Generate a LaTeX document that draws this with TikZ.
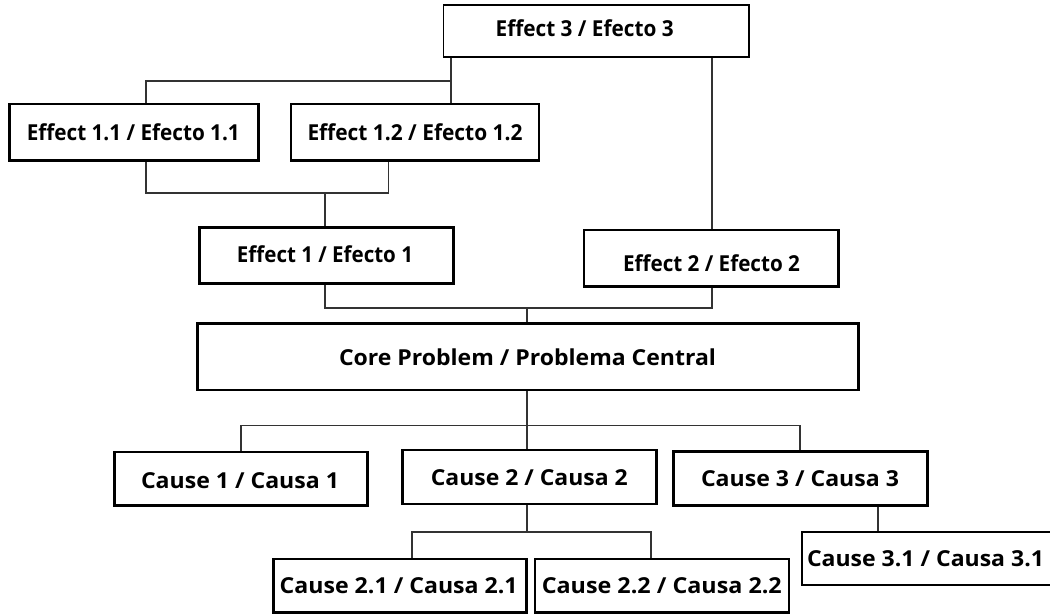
\documentclass[tikz,border=0pt]{standalone}
\usepackage{fontspec}
\usepackage{graphicx}
\setmainfont{Open Sans}
\usetikzlibrary{fit}
% set a label to a given width, keeping its natural height
\newcommand\fitlabel[2]{\resizebox{#1pt}{\height}{#2}}
\tikzset{
  x=1pt, y=-1pt,
  box/.style={draw=black, line width=2.8pt, inner sep=0pt, fill=white},
  thinbox/.style={box, line width=1.8pt},
  lbl/.style={anchor=base, inner sep=0pt, font=\fontsize{22}{26}\selectfont\bfseries},
  link/.style={draw=black!80, line width=1.7pt}
}
\begin{document}
\begin{tikzpicture}
\clip (0,0) rectangle (1050,614);
\fill[white] (0,0) rectangle (1050,614);

% junction points of the connector lines
\coordinate (ja) at (451,81);     % Effect 3 -> Effect 1.1 / 1.2
\coordinate (jb) at (146,81);
\coordinate (jd) at (146,193);    % Effect 1.1 / 1.2 -> Effect 1
\coordinate (je) at (388.4,193);
\coordinate (jf) at (325,193);
\coordinate (jg) at (325,307.7);  % Effect 1 / 2 -> Core
\coordinate (jh) at (711.7,307.7);
\coordinate (ji) at (526.7,307.7);
\coordinate (jj) at (241,425.5);  % Core -> Causes
\coordinate (jk) at (800,425.5);
\coordinate (jm) at (412.3,532.3);% Cause 2 -> 2.1 / 2.2
\coordinate (jn) at (651,532.3);
\coordinate (jo) at (526.7,532.3);

% boxes
\node[thinbox, fit={(443.5,4.7) (749,56.7)}] (e3) {};
\node[box, fit={(9.3,104) (258.7,160.5)}] (e11) {};
\node[box, fit={(291,104) (539,160.5)}] (e12) {};
\node[box, fit={(199.3,227.3) (453.3,283.3)}] (e1) {};
\node[box, fit={(584,230) (838.3,286.7)}] (e2) {};
\node[box, fit={(197.7,323.3) (858.7,390)}] (core) {};
\node[box, fit={(114.7,452) (367.3,505.5)}] (c1) {};
\node[box, fit={(402.7,450) (656.8,504)}] (c2) {};
\node[box, fit={(673.7,451.7) (927.3,505.5)}] (c3) {};
\node[box, fit={(273.3,559) (526.7,612.7)}] (c21) {};
\node[box, fit={(535,559) (789,612.7)}] (c22) {};
\node[box, line width=2.3pt, fit={(801.7,531.7) (1070,585)}] (c31) {};

% connectors between the boxes
\path[link] (e3.south -| ja) -- (e12.north -| ja);
\path[link] (ja) -- (jb) -- (e11.north -| jb);
\path[link] (e3.south -| jh) -- (e2.north -| jh);
\path[link] (e11.south -| jd) -- (jd) -- (je) -- (e12.south -| je);
\path[link] (jf) -- (e1.north -| jf);
\path[link] (e1.south -| jg) -- (jg) -- (jh) -- (e2.south -| jh);
\path[link] (ji) -- (core.north -| ji);
\path[link] (core.south -| ji) -- (c2.north -| ji);
\path[link] (c1.north -| jj) -- (jj) -- (jk) -- (c3.north -| jk);
\path[link] (c2.south -| jo) -- (jo);
\path[link] (c21.north -| jm) -- (jm) -- (jn) -- (c22.north -| jn);
\path[link] (c3.south -| 877.7,0) -- (c31.north -| 877.7,0);

% labels
\node[lbl] (te3) at (584.7,36) {\fitlabel{178}{Effect 3 / Efecto 3}};
\node[lbl] (te11) at (133.3,140) {\fitlabel{213}{Effect 1.1 / Efecto 1.1}};
\node[lbl] (te12) at (415,140) {\fitlabel{215}{Effect 1.2 / Efecto 1.2}};
\node[lbl] (te1) at (325,262.7) {\fitlabel{176}{Effect 1 / Efecto 1}};
\node[lbl] (te2) at (711.5,271) {\fitlabel{177}{Effect 2 / Efecto 2}};
\node[lbl] (tcore) at (527.5,365) {\fitlabel{377}{Core Problem / Problema Central}};
\node[lbl] (tc1) at (240,488.3) {\fitlabel{198}{Cause 1 / Causa 1}};
\node[lbl] (tc2) at (529.3,485) {\fitlabel{197}{Cause 2 / Causa 2}};
\node[lbl] (tc3) at (800,486.7) {\fitlabel{198}{Cause 3 / Causa 3}};
\node[lbl] (tc21) at (398.7,593.3) {\fitlabel{238}{Cause 2.1 / Causa 2.1}};
\node[lbl] (tc22) at (661.8,593.3) {\fitlabel{240}{Cause 2.2 / Causa 2.2}};
\node[lbl] (tc31) at (925.5,566.7) {\fitlabel{237}{Cause 3.1 / Causa 3.1}};
\end{tikzpicture}
\end{document}
